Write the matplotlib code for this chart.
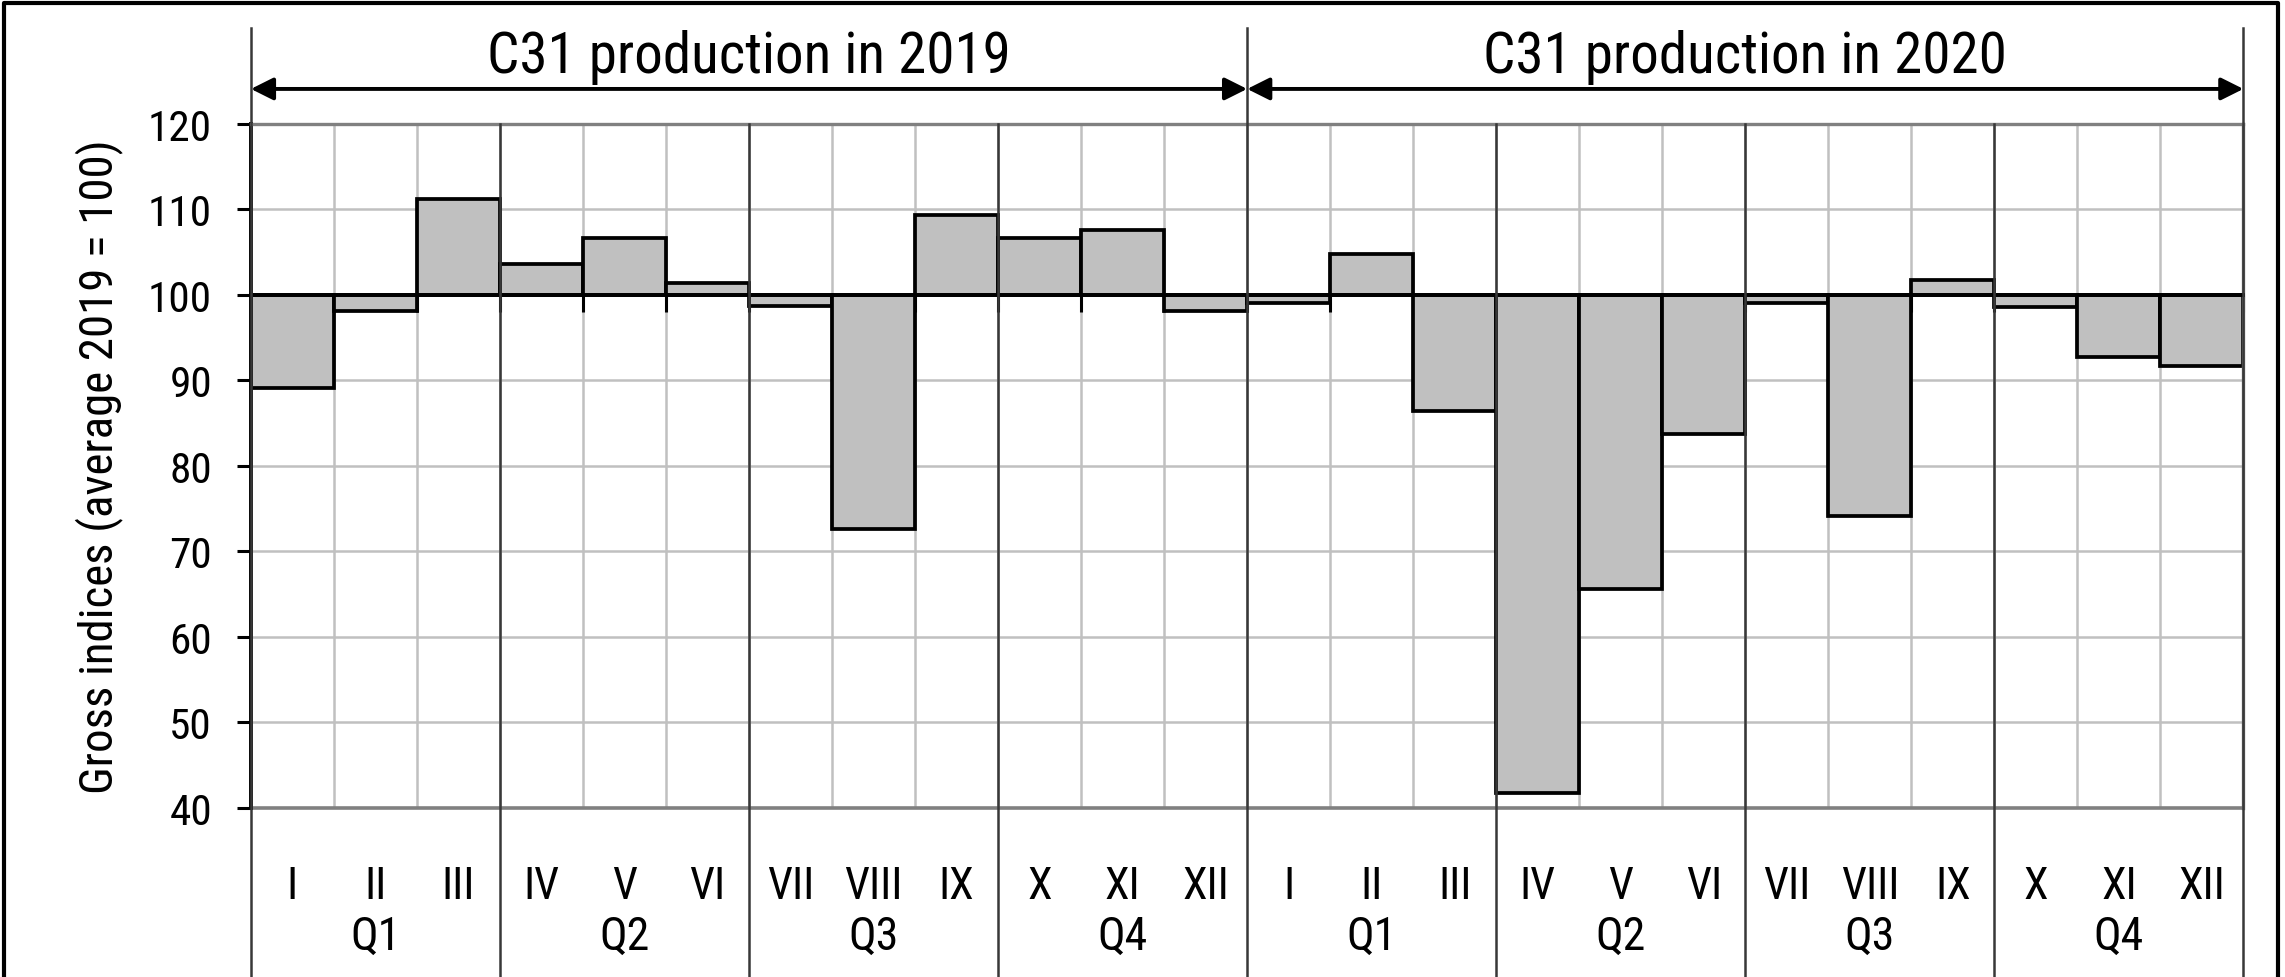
import matplotlib
matplotlib.use('Agg')
import matplotlib.pyplot as plt
import numpy as np
from matplotlib import font_manager
from matplotlib.lines import Line2D

# ==================================== data
years = ['2019', '2020']
months = ['I', 'II', 'III', 'IV', 'V', 'VI', 'VII', 'VIII', 'IX', 'X', 'XI', 'XII']
quarters = ['Q1', 'Q2', 'Q3', 'Q4']
idx_2019 = [89.1, 98.1, 111.2, 103.6, 106.7, 101.4, 98.7, 72.6, 109.4, 106.7, 107.6, 98.1]
idx_2020 = [99.1, 104.8, 86.4, 41.8, 65.6, 83.8, 99.1, 74.2, 101.7, 98.6, 92.7, 91.7]
base = 100
y_ticks = [40, 50, 60, 70, 80, 90, 100, 110, 120]
y_label = 'Gross indices (average 2019 = 100)'


# ==================================== fonts (original uses Arial Narrow)
def pick_font():
    prefer = ['Liberation Sans Narrow', 'Roboto Condensed', 'Open Sans Condensed',
              'Noto Sans', 'Open Sans', 'Roboto', 'Liberation Sans', 'DejaVu Sans']
    entries = font_manager.fontManager.ttflist
    names = {f.name for f in entries}
    for name in prefer:
        for f in entries:
            if (f.name == name and f.style == 'normal' and f.weight in (400, 'normal', 'regular')
                    and f.stretch in ('condensed', 'semi-condensed', 'extra-condensed')):
                return name, f.stretch
    for name in prefer:
        if name in names:
            return name, 'normal'
    return 'DejaVu Sans', 'normal'


font_name, font_stretch = pick_font()
plt.rcParams['font.family'] = [font_name, 'DejaVu Sans']
plt.rcParams['font.stretch'] = font_stretch


def fitted_size(txt, renderer, target, size, vertical=False):
    # shrink when the fallback font runs wider than Arial Narrow
    txt.set_fontsize(size)
    bb = txt.get_window_extent(renderer)
    w = bb.height if vertical else bb.width
    return size * target / w if w > target else size


def draw():
    vals = np.array(idx_2019 + idx_2020)
    n = len(vals)
    x = np.arange(n)

    fig = plt.figure(figsize=(22.85, 9.78), dpi=100)
    ax = fig.add_axes([0.1098, 0.1728, 0.872, 0.6994])
    ax.set_xlim(0, n)
    ax.set_ylim(y_ticks[0], y_ticks[-1])
    renderer = fig.canvas.get_renderer()

    # bars from the 100 baseline
    ax.bar(x, vals - base, bottom=base, width=1, align='edge',
           color='#c0c0c0', edgecolor='black', linewidth=2.7, zorder=2)

    # grid
    ax.set_axisbelow(True)
    ax.set_xticks(np.arange(n + 1))
    ax.set_yticks(y_ticks)
    ax.grid(True, color='#c0c0c0', linewidth=1.8)

    # spines: horizontal axis crosses at 100
    ax.spines['bottom'].set_position(('data', base))
    ax.spines['bottom'].set_color('black')
    ax.spines['bottom'].set_linewidth(2.8)
    ax.spines['left'].set_color('black')
    ax.spines['left'].set_linewidth(2.8)
    for s in ['top', 'right']:
        ax.spines[s].set_color('#808080')
        ax.spines[s].set_linewidth(2.4)
    ax.axhline(y_ticks[0], color='#808080', linewidth=2.6, clip_on=False, zorder=2.5)

    probe = fig.text(0, 0, str(max(y_ticks)))
    tick_size = fitted_size(probe, renderer, 64, 34)
    probe.remove()
    ax.tick_params(axis='x', direction='out', length=12, width=2.2,
                   labelbottom=False, color='black')
    ax.tick_params(axis='y', direction='out', length=10, width=2.2, pad=18,
                   labelsize=tick_size)

    # month / quarter labels
    for i, m in enumerate(months * len(years)):
        t = ax.text(i + 0.5, 29.5, m, ha='center', va='baseline')
        t.set_fontsize(fitted_size(t, renderer, 66 if m == 'VIII' else 200, 32))
    for q in range(len(quarters) * len(years)):
        t = ax.text(q * 3 + 1.5, 23.5, quarters[q % 4], ha='center', va='baseline')
        t.set_fontsize(fitted_size(t, renderer, 200, 33))

    # quarter separators
    for b in range(3, n, 3):
        top = 131.2 if b % 12 == 0 else y_ticks[-1]
        ax.plot([b, b], [top, 15], color='#383838', linewidth=1.8,
                clip_on=False, zorder=4)
    for b in [0, n]:
        ax.plot([b, b], [131.2, 15], color='#383838', linewidth=1.8,
                clip_on=False, zorder=4)

    # year arrows and titles
    for k, yr in enumerate(years):
        x0, x1 = k * 12, (k + 1) * 12
        ax.annotate('', xy=(x0, 124.1), xytext=(x1, 124.1),
                    arrowprops=dict(arrowstyle='<|-|>', color='black', lw=2.8,
                                    mutation_scale=34, shrinkA=0, shrinkB=0),
                    annotation_clip=False)
        t = ax.text((x0 + x1) / 2, 126.1, f'C31 production in {yr}', ha='center',
                    va='baseline')
        t.set_fontsize(fitted_size(t, renderer, 540, 41))

    yl = fig.text(99 / 2285, 0.5225, y_label, rotation=90, ha='center', va='center')
    yl.set_fontsize(fitted_size(yl, renderer, 655, 35, vertical=True))

    # outer frame (bottom edge is cut off in the original)
    fig.add_artist(Line2D([0.0019, 0.0019, 0.9968, 0.9968], [0, 0.9955, 0.9955, 0],
                          transform=fig.transFigure, color='black', linewidth=3))

    fig.savefig('out.png', dpi=100)


if __name__ == '__main__':
    draw()
